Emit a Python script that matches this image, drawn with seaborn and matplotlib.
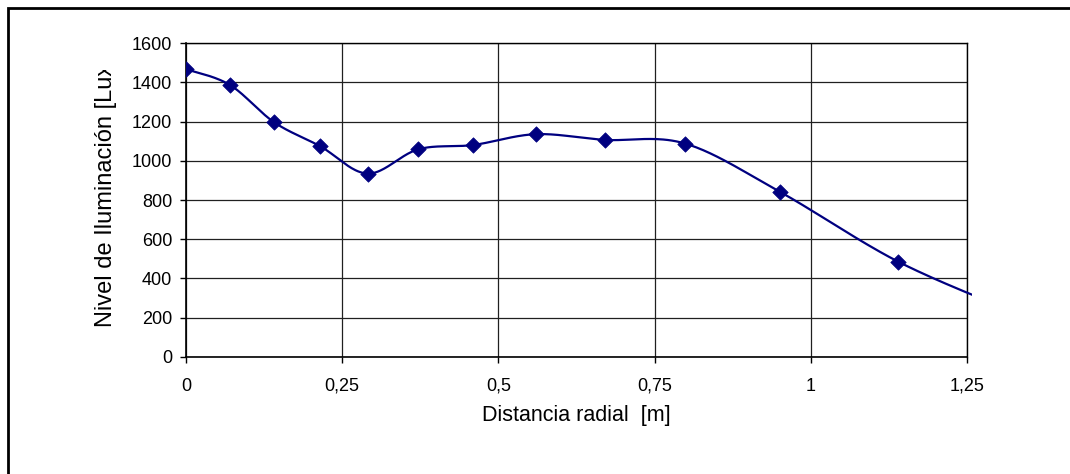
import numpy as np
import pandas as pd
import matplotlib
matplotlib.use("Agg")
import matplotlib.pyplot as plt
from matplotlib.patches import Rectangle
from matplotlib.transforms import Bbox, TransformedBbox
import seaborn as sns

# ---- data ----
distancia = [0.0, 0.070, 0.141, 0.215, 0.291, 0.372, 0.460, 0.560, 0.670, 0.799, 0.951, 1.140, 1.330]
iluminacion = [1468, 1388, 1197, 1074, 935, 1059, 1081, 1136, 1107, 1088, 841, 485, 222]
x_ticks = [0, 0.25, 0.5, 0.75, 1.0, 1.25]
x_tick_labels = ["0", "0,25", "0,5", "0,75", "1", "1,25"]
y_ticks = [0, 200, 400, 600, 800, 1000, 1200, 1400, 1600]
x_label = "Distancia radial  [m]"
y_label = "Nivel de Iluminación [Lux]"

sns.set_style("white")
plt.rcParams["font.family"] = ["Liberation Sans", "DejaVu Sans"]
plt.rcParams["text.color"] = "black"
plt.rcParams["xtick.labelcolor"] = "black"
plt.rcParams["ytick.labelcolor"] = "black"

W, H = 1070, 474
fig = plt.figure(figsize=(W / 100, H / 100), dpi=100)
ax = fig.add_axes([186 / W, 1 - 356.7 / H, (967 - 186) / W, (356.7 - 43.3) / H])

# Excel-like smoothed curve (Catmull-Rom as cubic Bezier)
P = np.column_stack([distancia, iluminacion]).astype(float)
n = len(P)
curve = []
t = np.linspace(0, 1, 40)[:, None]
for i in range(n - 1):
    p0 = P[max(i - 1, 0)]
    p1 = P[i]
    p2 = P[i + 1]
    p3 = P[min(i + 2, n - 1)]
    c1 = p1 + (p2 - p0) / 6.0
    c2 = p2 - (p3 - p1) / 6.0
    seg = ((1 - t) ** 3) * p1 + 3 * ((1 - t) ** 2) * t * c1 + 3 * (1 - t) * t ** 2 * c2 + t ** 3 * p2
    curve.append(seg if i == 0 else seg[1:])
curve = np.vstack(curve)
df_curve = pd.DataFrame({"x": curve[:, 0], "y": curve[:, 1]})
df_pts = pd.DataFrame({"x": distancia, "y": iluminacion})

navy = "#000080"
sns.lineplot(data=df_curve, x="x", y="y", sort=False, color=navy, linewidth=1.6, ax=ax, zorder=3)
line = ax.lines[-1]
clip_rect = Rectangle((0, 0), 1.007, 1.0, transform=ax.transAxes, visible=False)
ax.add_patch(clip_rect)
line.set_clip_path(clip_rect)

sns.scatterplot(data=df_pts, x="x", y="y", marker="D", s=62, color=navy, edgecolor=navy,
                linewidth=0.5, ax=ax, zorder=4)

ax.set_xlim(0, 1.25)
ax.set_ylim(0, 1600)
ax.set_xticks(x_ticks)
ax.set_xticklabels(x_tick_labels)
ax.set_yticks(y_ticks)
ax.set_yticklabels([str(v) for v in y_ticks])
ax.grid(True, color="#202020", linewidth=0.9)
ax.set_axisbelow(True)
for s in ax.spines.values():
    s.set_color("black")
    s.set_linewidth(1.0)
ax.spines["left"].set_linewidth(1.2)
ax.spines["bottom"].set_linewidth(1.2)
ax.tick_params(axis="x", direction="out", length=4.5, width=1, color="black", pad=10.5,
               labelsize=13, labelcolor="black")
ax.tick_params(axis="y", direction="out", length=4.5, width=1, color="black", pad=5.5,
               labelsize=13, labelcolor="black")
ax.tick_params(bottom=True, left=True)
ax.set_xlabel("")
ax.set_ylabel("")

fig.text(576.5 / W, 1 - 416 / H, x_label, ha="center", va="center", fontsize=15.5, color="black")
ylab = fig.text(106.5 / W, 1 - 327 / H, y_label, rotation=90, ha="center", va="bottom",
                fontsize=17, color="black", clip_on=True)
ylab.set_clip_box(TransformedBbox(Bbox([[0, 0], [1, 1 - 70 / H]]), fig.transFigure))

fig.patches.append(Rectangle((7.5 / W, -0.1), 1.2, 1.1 - 7.5 / H, transform=fig.transFigure,
                             fill=False, edgecolor="black", linewidth=2.0, clip_on=False))

fig.savefig("out.png", dpi=100, facecolor="white")
